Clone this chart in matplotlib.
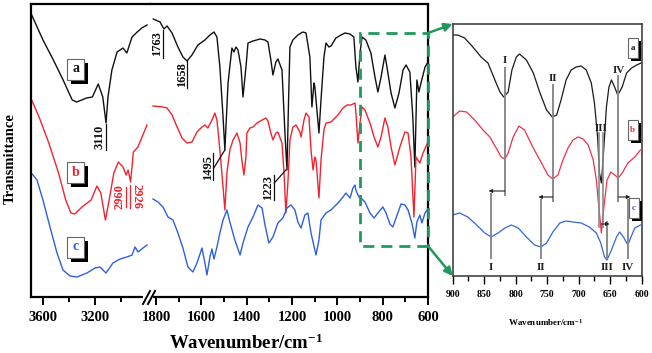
import matplotlib.pyplot as plt
import matplotlib.transforms as mtransforms
from matplotlib.patches import Rectangle, ConnectionPatch
from matplotlib.lines import Line2D

# Spectra (transmittance, arbitrary units, curves already offset)
# high wavenumber window 3700-2800
wn_a_hi = [3690, 3600, 3520, 3445, 3375, 3340, 3265, 3220, 3175, 3140, 3115, 3100, 3070, 3030, 2985, 2955, 2915, 2875, 2840, 2800]
a_hi = [283, 257, 237, 217, 197, 195, 199, 200, 213, 200, 174, 200, 227, 245, 249, 244, 260, 265, 269, 272]
wn_b_hi = [3690, 3630, 3555, 3480, 3425, 3385, 3355, 3300, 3230, 3185, 3155, 3120, 3095, 3055, 3020, 2985, 2960, 2945, 2926, 2905, 2870, 2838, 2800]
b_hi = [198, 180, 154, 124, 97, 84, 83, 90, 97, 111, 104, 77, 94, 124, 135, 130, 122, 127, 115, 145, 150, 160, 172]
wn_c_hi = [3690, 3646, 3600, 3546, 3492, 3446, 3392, 3338, 3262, 3200, 3162, 3115, 3062, 3008, 2954, 2915, 2892, 2869, 2831, 2800]
c_hi = [124, 117, 97, 70, 44, 27, 21, 20, 24, 29, 30, 24, 34, 38, 40, 42, 50, 45, 49, 52]

# fingerprint window 1815-600
wn_a_lo = [1812, 1782, 1765, 1751, 1729, 1703, 1681, 1663, 1641, 1615, 1584, 1562, 1544, 1531, 1518, 1504, 1496, 1482, 1465, 1456,
           1447, 1438, 1425, 1416, 1403, 1394, 1372, 1341, 1319, 1306, 1293, 1284, 1271, 1262, 1244, 1231, 1222, 1215, 1209, 1196,
           1174, 1152, 1138, 1121, 1112, 1103, 1099, 1081, 1072, 1059, 1050, 1037, 1028, 1006, 984, 966, 944, 927, 918, 909,
           900, 891, 874, 852, 834, 821, 807, 790, 781, 763, 746, 728, 710, 697, 680, 667, 658, 649, 640, 631, 613, 600]
a_lo = [278, 275, 268, 271, 264, 250, 240, 236, 242, 252, 257, 262, 265, 260, 230, 180, 147, 214, 249, 245,
        250, 247, 230, 200, 230, 254, 256, 258, 257, 255, 237, 222, 235, 238, 227, 164, 127, 197, 250, 257,
        262, 265, 264, 240, 190, 214, 210, 164, 197, 240, 254, 250, 251, 259, 262, 264, 263, 260, 230, 215,
        244, 260, 257, 244, 220, 205, 220, 242, 230, 204, 189, 204, 227, 232, 225, 180, 130, 217, 205, 214, 230, 235]
wn_b_lo = [1813, 1769, 1751, 1729, 1707, 1685, 1663, 1641, 1619, 1597, 1584, 1571, 1553, 1540, 1531, 1518, 1504, 1496, 1487, 1474,
           1460, 1452, 1443, 1429, 1421, 1412, 1403, 1399, 1385, 1372, 1354, 1332, 1315, 1306, 1293, 1284, 1271, 1262, 1244, 1235,
           1227, 1218, 1209, 1196, 1182, 1165, 1160, 1147, 1138, 1125, 1116, 1107, 1099, 1094, 1081, 1072, 1059, 1050, 1028, 997,
           975, 957, 940, 922, 918, 909, 900, 891, 878, 856, 838, 821, 807, 790, 777, 763, 746, 724, 702, 688,
           675, 662, 653, 645, 636, 622, 600]
b_lo = [191, 190, 189, 182, 170, 159, 154, 155, 165, 170, 172, 169, 177, 184, 177, 147, 110, 87, 124, 147,
        157, 160, 164, 154, 137, 122, 140, 164, 169, 170, 174, 177, 179, 176, 164, 157, 164, 165, 154, 124,
        84, 114, 157, 170, 172, 165, 160, 177, 184, 180, 147, 127, 140, 137, 99, 137, 167, 174, 175, 182,
        189, 192, 192, 194, 184, 154, 174, 190, 187, 174, 160, 150, 160, 179, 170, 150, 132, 150, 165, 164,
        140, 80, 140, 137, 134, 144, 155]
wn_c_lo = [1813, 1791, 1769, 1747, 1725, 1703, 1681, 1659, 1637, 1619, 1597, 1584, 1575, 1562, 1553, 1544, 1531, 1518, 1504, 1487,
           1474, 1452, 1429, 1416, 1394, 1372, 1350, 1332, 1319, 1302, 1284, 1262, 1240, 1222, 1204, 1187, 1174, 1160, 1143, 1130,
           1116, 1099, 1094, 1081, 1072, 1050, 1028, 997, 975, 962, 944, 931, 922, 918, 905, 896, 878, 856, 838, 821,
           799, 785, 768, 755, 741, 719, 702, 688, 671, 658, 649, 636, 627, 613, 600]
c_lo = [98, 95, 90, 80, 77, 64, 49, 30, 25, 34, 49, 34, 22, 40, 48, 38, 50, 64, 77, 87,
        75, 57, 42, 54, 70, 80, 92, 89, 72, 54, 60, 74, 79, 89, 92, 87, 75, 69, 82, 84,
        64, 47, 42, 57, 77, 84, 87, 94, 100, 104, 99, 109, 112, 107, 100, 99, 95, 84, 79, 84,
        90, 84, 73, 70, 79, 93, 92, 87, 74, 59, 75, 82, 74, 84, 88]

# enlarged 900-600 region (right panel)
wn_a_in = [900, 892, 881, 868, 855, 844, 833, 825, 819, 812, 806, 799, 794, 783, 772, 762, 751, 742, 735, 728,
           720, 712, 704, 696, 688, 680, 675, 670, 667, 664, 660, 656, 652, 648, 643, 638, 631, 624, 616, 608, 601]
a_in = [241, 241, 238, 229, 219, 213, 196, 184, 179, 184, 206, 219, 222, 216, 203, 184, 166, 159, 161, 176,
        196, 206, 209, 210, 206, 193, 173, 139, 103, 93, 129, 169, 189, 196, 189, 181, 189, 203, 208, 211, 213]
wn_b_in = [900, 889, 878, 865, 852, 841, 831, 823, 817, 812, 804, 795, 786, 773, 759, 749, 741, 733, 725, 717,
           709, 701, 693, 685, 677, 672, 668, 664, 660, 655, 649, 643, 637, 630, 622, 611, 602]
b_in = [159, 165, 164, 156, 146, 139, 128, 119, 117, 123, 139, 150, 146, 129, 113, 101, 97, 101, 116, 128,
        136, 139, 137, 131, 116, 96, 69, 43, 69, 96, 104, 101, 98, 104, 113, 119, 126]
wn_c_in = [900, 889, 876, 862, 849, 839, 828, 817, 807, 796, 783, 770, 760, 751, 741, 730, 720, 709, 696, 683,
           672, 665, 659, 655, 648, 640, 635, 629, 622, 617, 611, 602]
c_in = [61, 63, 59, 51, 43, 39, 43, 48, 51, 48, 39, 31, 29, 33, 44, 53, 55, 54, 53, 49,
        43, 33, 19, 16, 26, 39, 44, 39, 31, 39, 48, 51]

GREEN = '#1f9a5c'
C_A, C_B, C_C = '#111111', '#f2232f', '#2f5fe0'

plt.rcParams['font.family'] = ['Liberation Serif', 'DejaVu Serif']
plt.rcParams['font.weight'] = 'bold'
plt.rcParams['mathtext.fontset'] = 'custom'
plt.rcParams['mathtext.rm'] = 'Liberation Serif:bold'
plt.rcParams['mathtext.default'] = 'rm'

W, H = 652, 353
fig = plt.figure(figsize=(W / 100, H / 100), dpi=100)


def px_rect(x0, y0, x1, y1):
    return [x0 / W, 1 - y1 / H, (x1 - x0) / W, (y1 - y0) / H]


ax_l = fig.add_axes(px_rect(31, 4, 149.6, 297))
ax_r = fig.add_axes(px_rect(149.6, 4, 428, 297))
ax_in = fig.add_axes(px_rect(452.7, 24, 641.7, 276))

ax_l.plot(wn_a_hi, a_hi, color=C_A, lw=1.0)
ax_l.plot(wn_b_hi, b_hi, color=C_B, lw=1.0)
ax_l.plot(wn_c_hi, c_hi, color=C_C, lw=1.0)
ax_r.plot(wn_a_lo, a_lo, color=C_A, lw=1.0)
ax_r.plot(wn_b_lo, b_lo, color=C_B, lw=1.0)
ax_r.plot(wn_c_lo, c_lo, color=C_C, lw=1.0)

ax_l.set_xlim(3692, 2780)
ax_r.set_xlim(1828, 600)
for ax in (ax_l, ax_r):
    ax.set_ylim(0, 293)
    ax.set_yticks([])
    for s in ax.spines.values():
        s.set_linewidth(1.6)
    ax.tick_params(axis='x', which='major', direction='out', length=6, width=1.4, labelsize=10.5, pad=4)
    ax.tick_params(axis='x', which='minor', direction='out', length=3.5, width=1.4)
ax_l.spines['right'].set_visible(False)
ax_r.spines['left'].set_visible(False)
ax_l.set_xticks([3600, 3200])
ax_l.set_xticks([3400, 3000], minor=True)
ax_r.set_xticks(list(range(1800, 599, -200)))
ax_r.set_xticks(list(range(1700, 600, -200)), minor=True)

# axis break mark
fig.add_artist(Line2D([145 / W, 151 / W], [1 - 297 / H, 1 - 297 / H], color='white', lw=3))
for x0 in (143, 148):
    fig.add_artist(Line2D([x0 / W, (x0 + 7) / W], [1 - 304 / H, 1 - 291 / H], color='k', lw=1.4))

fig.text(10 / W, 1 - 159 / H, 'Transmittance', rotation=90, ha='center', va='center', fontsize=10.5)
fig.text(246 / W, 1 - 343 / H, r'Wavenumber/cm$^{-1}$', ha='center', va='center', fontsize=13.5)


def tag(ax, x, y, s, color, fs, bw, bh, off):
    # white label box with a black drop shadow, size given in pixels
    base = fig.dpi_scale_trans + mtransforms.ScaledTranslation(x, y, ax.transData)
    w, h, o = bw / 100, bh / 100, off / 100
    ax.add_patch(Rectangle((-w / 2 + o, -h / 2 - o), w, h, transform=base, fc='k', ec='none',
                           zorder=6, clip_on=False))
    ax.add_patch(Rectangle((-w / 2, -h / 2), w, h, transform=base, fc='white', ec='#666666', lw=0.8,
                           zorder=7, clip_on=False))
    ax.text(x, y, s, ha='center', va='center', fontsize=fs, color=color, zorder=8)


tag(ax_l, 3346, 228, 'a', C_A, 10, 17, 21, 4)
tag(ax_l, 3346, 125, 'b', C_B, 10, 17, 21, 4)
tag(ax_l, 3346, 50, 'c', C_C, 10, 17, 21, 4)

# peak labels, main panel
ax_l.text(3162, 160, '3110', rotation=90, ha='center', va='center', fontsize=9, color=C_A)
ax_l.plot([3115, 3115], [173, 147], color=C_A, lw=0.9)
ax_l.text(3008, 100, '2960', rotation=90, ha='center', va='center', fontsize=9, color=C_B)
ax_l.plot([2962, 2962], [110, 90], color=C_B, lw=0.9)
ax_l.text(2877, 101, '2926', rotation=-90, ha='center', va='center', fontsize=9, color=C_B)
ax_l.plot([2931, 2931], [112, 89], color=C_B, lw=0.9)

ax_r.text(1795, 253, '1763', rotation=90, ha='center', va='center', fontsize=9, color=C_A)
ax_r.plot([1769, 1769], [267, 239], color=C_A, lw=0.9)
ax_r.text(1685, 222, '1658', rotation=90, ha='center', va='center', fontsize=9, color=C_A)
ax_r.plot([1663, 1663], [236, 209], color=C_A, lw=0.9)
ax_r.text(1571, 130, '1495', rotation=90, ha='center', va='center', fontsize=9, color=C_A)
ax_r.plot([1549, 1549], [144, 117], color=C_A, lw=0.9)
ax_r.plot([1545, 1496], [129, 147], color=C_A, lw=0.9)
ax_r.text(1306, 109, '1223', rotation=90, ha='center', va='center', fontsize=9, color=C_A)
ax_r.plot([1280, 1280], [122, 97], color=C_A, lw=0.9)
ax_r.plot([1278, 1227], [114, 127], color=C_A, lw=0.9)

# zoom box
ax_r.add_patch(Rectangle((600, 51), 300, 213, fill=False, ec=GREEN, lw=2.0, ls=(0, (4, 2.5)),
                         clip_on=False, zorder=5))

# enlarged panel
ax_in.plot(wn_a_in, a_in, color='#1a1a1a', lw=0.9)
ax_in.plot(wn_b_in, b_in, color='#f0304a', lw=0.9)
ax_in.plot(wn_c_in, c_in, color='#3366dd', lw=0.9)
ax_in.set_xlim(900, 600)
ax_in.set_ylim(0, 252)
ax_in.set_yticks([])
ax_in.set_xticks(list(range(900, 599, -50)))
ax_in.set_xticks(list(range(875, 600, -50)), minor=True)
ax_in.tick_params(axis='x', which='major', direction='out', length=6, width=1.0, labelsize=7, pad=4)
ax_in.tick_params(axis='x', which='minor', direction='out', length=3.5, width=1.0)
for s in ax_in.spines.values():
    s.set_linewidth(1.1)
    s.set_color('#333333')
fig.text(546 / W, 1 - 323 / H, r'Wavenumber/cm$^{-1}$', ha='center', va='center', fontsize=6.5)

tag(ax_in, 614, 228, 'a', C_A, 6.5, 10, 20, 3)
tag(ax_in, 614, 146, 'b', C_B, 6.5, 10, 20, 3)
tag(ax_in, 612, 68, 'c', C_C, 6.5, 10, 20, 3)

GRAY = '#8a8a8a'
# (a,b position, top of line, numeral y, c position, arrow y, label)
for wab, top, ny, wc, ay, lab in [(817, 208, 216, 839, 85, 'I'), (741, 191, 198, 760, 79, 'II'),
                                  (637, 200, 206, 622, 79, 'IV')]:
    ax_in.plot([wab, wab], [top, ay - 4], color=GRAY, lw=1.4)
    ax_in.text(wab, ny, lab, ha='center', va='center', fontsize=8, color='#222222')
    ax_in.plot([wc, wc], [ay - 3, 18], color=GRAY, lw=1.4)
    ax_in.text(wc, 8, lab, ha='center', va='center', fontsize=8, color='#222222')
    ax_in.annotate('', xy=(wc + (4 if wc > wab else -4), ay), xytext=(wab, ay),
                   arrowprops=dict(arrowstyle='-|>', color='#222222', lw=0.8, mutation_scale=5,
                                   shrinkA=0, shrinkB=0))
for w in (667, 661):
    ax_in.plot([w, w], [143, 49], color=GRAY, lw=1.2)
ax_in.text(664, 148, 'III', ha='center', va='center', fontsize=8, color='#222222')
ax_in.plot([655, 655], [54, 18], color=GRAY, lw=1.4)
ax_in.text(655, 8, 'III', ha='center', va='center', fontsize=8, color='#222222')
ax_in.annotate('', xy=(651, 52), xytext=(664, 52),
               arrowprops=dict(arrowstyle='-|>', color='#222222', lw=0.8, mutation_scale=5, shrinkA=0, shrinkB=0))

# arrows from the dashed box to the enlarged panel
for yr, yi in [(264, 252), (51, 0)]:
    con = ConnectionPatch(xyA=(600, yr), coordsA=ax_r.transData, xyB=(900, yi), coordsB=ax_in.transData,
                          arrowstyle='-|>', color=GREEN, lw=1.8, mutation_scale=12, shrinkA=0, shrinkB=0)
    fig.add_artist(con)

fig.savefig('out.png', dpi=100, facecolor='white')
